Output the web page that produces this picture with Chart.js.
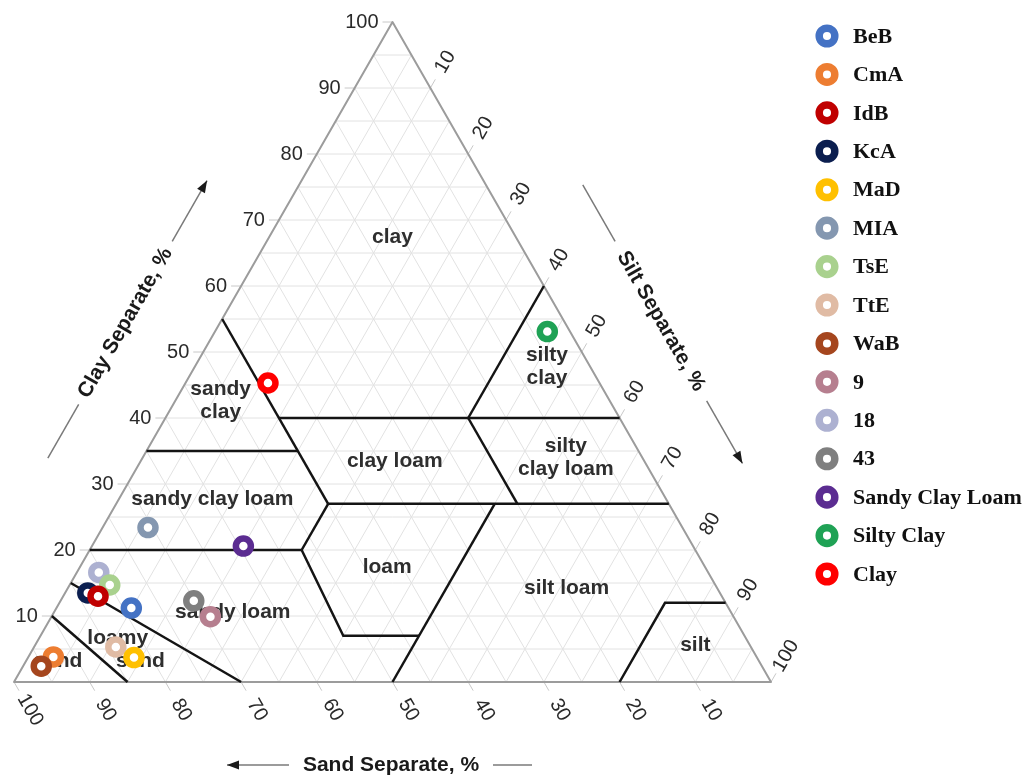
<!DOCTYPE html>
<html>
<head>
<meta charset="utf-8">
<title>Soil texture triangle</title>
<script src="https://cdn.jsdelivr.net/npm/chart.js@4.4.1/dist/chart.umd.min.js"></script>
<style>
  html, body { margin: 0; padding: 0; background: #fff; }
  canvas { display: block; }
</style>
</head>
<body>
<canvas id="tri" width="1030" height="776"></canvas>
<script>
// Sample compositions (sand / silt / clay, percent)
const samples = ['BeB', 'CmA', 'IdB', 'KcA', 'MaD', 'MIA', 'TsE', 'TtE', 'WaB', '9', '18', '43', 'Sandy Clay Loam', 'Silty Clay', 'Clay'];
const sandPct = [78.9, 92.9, 82.4, 83.5, 82.3, 70.6, 80.0, 83.9, 95.2, 69.1, 80.5, 70.1, 59.4, 3.0, 43.8];
const siltPct = [9.9, 3.3, 4.6, 3.0, 14.0, 6.0, 5.3, 10.8, 2.4, 21.0, 2.9, 17.6, 20.0, 43.9, 10.9];
const clayPct = [11.2, 3.8, 13.0, 13.5, 3.7, 23.4, 14.7, 5.3, 2.4, 9.9, 16.6, 12.3, 20.6, 53.1, 45.3];
const sampleColors = ['#4472C4', '#ED7D31', '#C00000', '#0B1E4F', '#FFC000', '#8497B0', '#A9D18E', '#E0BBA4', '#A5461E', '#B67F8F', '#ADB1D1', '#7F7F7F', '#5B2C91', '#1FA255', '#FF0000'];
const frontSamples = ['IdB', 'TsE', 'WaB', '9', 'MaD'];

// Axis tick values (percent)
const tickValues = [10, 20, 30, 40, 50, 60, 70, 80, 90, 100];

// USDA texture class boundaries, vertices as [sand, silt, clay]
const classBoundaries = [
  [[45, 0, 55], [45, 28, 27]],
  [[45, 15, 40], [0, 60, 40]],
  [[65, 0, 35], [45, 20, 35]],
  [[0, 40, 60], [20, 40, 40]],
  [[20, 40, 40], [20, 53, 27]],
  [[45, 28, 27], [0, 73, 27]],
  [[45, 28, 27], [52, 28, 20]],
  [[80, 0, 20], [52, 28, 20]],
  [[52, 28, 20], [53, 40, 7], [43, 50, 7]],
  [[23, 50, 27], [50, 50, 0]],
  [[20, 80, 0], [8, 80, 12], [0, 88, 12]],
  [[85, 0, 15], [70, 30, 0]],
  [[90, 0, 10], [85, 15, 0]]
];

// Texture class names, placed at [sand, silt, clay]
const classNames = [
  { lines: ['clay'], at: [16.3, 16.3, 67.4] },
  { lines: ['sandy', 'clay'], at: [51.4, 6.0, 42.6] },
  { lines: ['sandy clay loam'], at: [59.95, 12.35, 27.7] },
  { lines: ['clay loam'], at: [32.95, 33.55, 33.5] },
  { lines: ['silty', 'clay'], at: [5.7, 46.5, 47.8] },
  { lines: ['silty', 'clay loam'], at: [9.9, 55.9, 34.0] },
  { lines: ['loam'], at: [42.0, 40.6, 17.4] },
  { lines: ['silt loam'], at: [19.9, 65.9, 14.2] },
  { lines: ['sandy loam'], at: [65.8, 23.6, 10.6] },
  { lines: ['loamy'], at: [82.95, 10.35, 6.7] },
  { lines: ['sand'], at: [81.7, 15.1, 3.2] },
  { lines: ['sand'], at: [92.6, 4.2, 3.2] },
  { lines: ['silt'], at: [7.25, 87.25, 5.5] }
];

// Ternary -> chart values: x = silt + clay/2, y = clay
const toXY = (sand, silt, clay) => ({ x: silt + clay / 2, y: clay });

function px(chart, sand, silt, clay) {
  const v = toXY(sand, silt, clay);
  return [chart.scales.x.getPixelForValue(v.x), chart.scales.y.getPixelForValue(v.y)];
}

function seg(ctx, a, b) {
  ctx.beginPath();
  ctx.moveTo(a[0], a[1]);
  ctx.lineTo(b[0], b[1]);
  ctx.stroke();
}

function arrowHead(ctx, tip, dir, len, half) {
  const bx = tip[0] - dir[0] * len, by = tip[1] - dir[1] * len;
  ctx.beginPath();
  ctx.moveTo(tip[0], tip[1]);
  ctx.lineTo(bx - dir[1] * half, by + dir[0] * half);
  ctx.lineTo(bx + dir[1] * half, by - dir[0] * half);
  ctx.closePath();
  ctx.fill();
}

const SANS = '"Liberation Sans", Arial, sans-serif';
const SERIF = '"Liberation Serif", "Times New Roman", serif';

// Background: grid, frame, ticks and class names
const trianglePlugin = {
  id: 'triangle',
  beforeDatasetsDraw(chart) {
    const ctx = chart.ctx;
    ctx.save();
    // 5 % grid
    ctx.strokeStyle = '#e2e2e2';
    ctx.lineWidth = 1;
    for (let k = 5; k < 100; k += 5) {
      seg(ctx, px(chart, 100 - k, 0, k), px(chart, 0, 100 - k, k));
      seg(ctx, px(chart, 100 - k, k, 0), px(chart, 0, k, 100 - k));
      seg(ctx, px(chart, k, 100 - k, 0), px(chart, k, 0, 100 - k));
    }
    // outer ticks
    ctx.strokeStyle = '#c8c8c8';
    tickValues.forEach(v => {
      const c = px(chart, 100 - v, 0, v);
      seg(ctx, c, [c[0] - 10, c[1]]);
      const s = px(chart, 0, v, 100 - v);
      seg(ctx, s, [s[0] + 5, s[1] - 8.66]);
      const d = px(chart, v, 100 - v, 0);
      seg(ctx, d, [d[0] + 5, d[1] + 8.66]);
    });
    // frame
    const A = px(chart, 100, 0, 0), B = px(chart, 0, 100, 0), C = px(chart, 0, 0, 100);
    ctx.strokeStyle = '#9c9c9c';
    ctx.lineWidth = 2;
    ctx.lineJoin = 'round';
    ctx.beginPath();
    ctx.moveTo(A[0], A[1]); ctx.lineTo(B[0], B[1]); ctx.lineTo(C[0], C[1]); ctx.closePath();
    ctx.stroke();
    // class names
    ctx.fillStyle = '#2e2e2e';
    ctx.font = 'bold 21px ' + SANS;
    ctx.textAlign = 'center';
    ctx.textBaseline = 'middle';
    classNames.forEach(n => {
      const p = px(chart, n.at[0], n.at[1], n.at[2]);
      const lh = 23;
      const top = p[1] - (n.lines.length - 1) * lh / 2;
      n.lines.forEach((t, i) => ctx.fillText(t, p[0], top + i * lh));
    });
    ctx.restore();
  },
  afterDraw(chart) {
    const ctx = chart.ctx;
    ctx.save();
    const A = px(chart, 100, 0, 0), B = px(chart, 0, 100, 0), C = px(chart, 0, 0, 100);

    // tick labels
    ctx.fillStyle = '#2a2a2a';
    ctx.font = '20px ' + SANS;
    ctx.textBaseline = 'middle';
    tickValues.forEach(v => {
      const c = px(chart, 100 - v, 0, v);
      ctx.textAlign = 'right';
      ctx.fillText(String(v), c[0] - 14, c[1]);

      ctx.textAlign = 'center';
      const s = px(chart, 0, v, 100 - v);
      ctx.save();
      ctx.translate(s[0] + 15, s[1] - 26);
      ctx.rotate(-Math.PI / 3);
      ctx.fillText(String(v), 0, 0);
      ctx.restore();

      const d = px(chart, v, 100 - v, 0);
      ctx.save();
      ctx.translate(d[0] + 16, d[1] + 28);
      ctx.rotate(Math.PI / 3);
      ctx.fillText(String(v), 0, 0);
      ctx.restore();
    });

    // axis titles with guide arrows
    ctx.font = 'bold 21px ' + SANS;
    ctx.textAlign = 'center';
    ctx.textBaseline = 'middle';
    const drawTitle = (from, to, along, off, text, lineA, lineB) => {
      const L = Math.hypot(to[0] - from[0], to[1] - from[1]);
      const u = [(to[0] - from[0]) / L, (to[1] - from[1]) / L];
      const n = [u[1], -u[0]];
      const cx = from[0] + u[0] * along + n[0] * off;
      const cy = from[1] + u[1] * along + n[1] * off;
      const at = t => [cx + u[0] * t, cy + u[1] * t];
      ctx.strokeStyle = '#7a7a7a';
      ctx.fillStyle = '#1a1a1a';
      ctx.lineWidth = 1.5;
      seg(ctx, at(lineA[0]), at(lineA[1]));
      seg(ctx, at(lineB[0]), at(lineB[1]));
      arrowHead(ctx, at(lineB[1]), u, 12, 4.5);
      ctx.save();
      ctx.translate(cx, cy);
      let ang = Math.atan2(u[1], u[0]);
      if (ang > Math.PI / 2) ang -= Math.PI;
      if (ang < -Math.PI / 2) ang += Math.PI;
      ctx.rotate(ang);
      ctx.fillText(text, 0, 0);
      ctx.restore();
    };
    // clay: along left edge, pointing up
    drawTitle(A, C, 367, 82, 'Clay Separate, %', [-156, -94], [94, 164]);
    // silt: along right edge, pointing down
    drawTitle(C, B, 393, 84, 'Silt Separate, %', [-157, -92], [92, 164]);
    // sand: along bottom, pointing left
    drawTitle(B, A, 380, 83, 'Sand Separate, %', [-141, -102], [102, 164]);

    // legend
    ctx.font = 'bold 22px ' + SERIF;
    ctx.textAlign = 'left';
    ctx.textBaseline = 'middle';
    samples.forEach((name, i) => {
      const y = 36 + i * 38.43;
      ctx.beginPath();
      ctx.arc(827, y, 7.8, 0, Math.PI * 2);
      ctx.fillStyle = '#fff';
      ctx.fill();
      ctx.lineWidth = 7.5;
      ctx.strokeStyle = sampleColors[i];
      ctx.stroke();
      ctx.fillStyle = '#111';
      ctx.fillText(name, 853, y + 1);
    });
    ctx.restore();
  }
};

const datasets = [];
samples.forEach((name, i) => {
  datasets.push({
    label: name,
    data: [toXY(sandPct[i], siltPct[i], clayPct[i])],
    pointStyle: 'circle',
    pointRadius: 7.5,
    pointHoverRadius: 7.5,
    pointBorderWidth: 6.5,
    pointBackgroundColor: '#ffffff',
    pointBorderColor: sampleColors[i],
    showLine: false,
    clip: false,
    order: frontSamples.includes(name) ? 1 : 2
  });
});
classBoundaries.forEach(poly => {
  datasets.push({
    label: '',
    data: poly.map(v => toXY(v[0], v[1], v[2])),
    showLine: true,
    borderColor: '#141414',
    borderWidth: 2.5,
    pointRadius: 0,
    pointHoverRadius: 0,
    tension: 0,
    clip: false,
    order: 10
  });
});

new Chart(document.getElementById('tri'), {
  type: 'scatter',
  data: { datasets },
  options: {
    responsive: false,
    animation: false,
    events: [],
    layout: { padding: { left: 12, right: 259, top: 22, bottom: 94 } },
    scales: {
      x: { type: 'linear', min: 0, max: 100, display: false },
      y: { type: 'linear', min: 0, max: 100, display: false }
    },
    plugins: { legend: { display: false }, tooltip: { enabled: false } }
  },
  plugins: [trianglePlugin]
});
</script>
</body>
</html>
